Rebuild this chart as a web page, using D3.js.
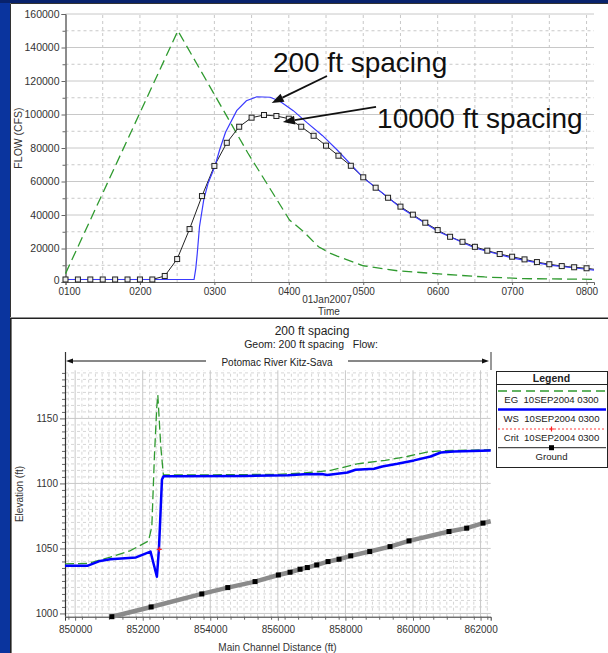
<!DOCTYPE html>
<html>
<head>
<meta charset="utf-8">
<script src="https://cdn.jsdelivr.net/npm/d3@7"></script>
<style>
  html, body { margin: 0; padding: 0; background: #0a349e; }
  svg { display: block; font-family: "Liberation Sans", Arial, sans-serif; }
</style>
</head>
<body>
<svg id="chart" width="608" height="653"></svg>
<script>
// ---------- Upper chart: flow hydrographs (hours after midnight, cfs) ----------
const hourTicks  = [1, 2, 3, 4, 5, 6, 7, 8];
const hourLabels = ["0100", "0200", "0300", "0400", "0500", "0600", "0700", "0800"];
const flowTicks  = [0, 20000, 40000, 60000, 80000, 100000, 120000, 140000, 160000];

// inflow hydrograph (green dashed)
const inflowTime = [1.0, 2.51, 3.45, 4.01, 4.2, 4.4, 4.56, 4.65, 5.0, 5.46, 6.09, 6.63, 7.16, 8.1];
const inflowCfs  = [5000, 150000, 77000, 37000, 30000, 21000, 17100, 15500, 9700, 6700, 4600, 3000, 2000, 1600];

// 200 ft cross-section spacing (blue)
const fineTime = [1.0, 2.727, 2.75, 2.77, 2.80, 2.857, 2.915, 3.005, 3.07, 3.15, 3.30, 3.43, 3.57, 3.75, 3.88,
                  4.06, 4.24, 4.45, 4.65, 5.0, 5.5, 6.0, 6.5, 7.0, 7.5, 8.0, 8.1];
const fineCfs  = [1500, 1500, 8000, 17000, 33000, 49000, 58900, 68800, 78800, 89400, 102300, 108200, 110600, 110300, 107900,
                  102300, 95300, 87500, 78800, 62300, 44500, 30300, 20300, 14400, 10100, 7600, 7100];

// 10000 ft cross-section spacing (black, one value every 10 minutes from 01:00)
const coarseCfs = [1500, 1500, 1500, 1500, 1500, 1500, 1500, 1500, 3600, 13700,
                   31600, 51300, 69300, 83100, 92700, 98100, 99700, 99100, 97500, 92700,
                   87300, 81400, 75400, 69400, 62500, 56300, 50300, 45000, 40200, 35400,
                   31000, 27000, 24000, 21000, 18700, 16700, 15100, 13500, 11900, 10600,
                   9500, 8800, 8200];
const coarseTail = [8.1, 7600];

// ---------- Lower chart: water surface profile ----------
const stationTicks = [850000, 852000, 854000, 856000, 858000, 860000, 862000];
const elevTicks    = [1000, 1050, 1100, 1150];

const egStation = [849700, 850400, 850740, 851040, 851620, 852170, 852270, 852346, 852417, 852447, 852535, 852612,
                   854000, 856000, 856775, 857565, 858350, 859180, 859820, 860410, 860820, 862300];
const egElev    = [1038.1, 1038.5, 1041.2, 1043.3, 1048.1, 1055.7, 1066.7, 1120.6, 1159.0, 1168.0, 1128.3, 1106.5,
                   1106.6, 1107.0, 1108.0, 1110.0, 1115.1, 1117.7, 1120.7, 1124.1, 1125.1, 1125.9];

const wsStation = [849700, 850360, 850740, 851040, 851800, 852230, 852420, 852480, 852570, 852620,
                   855000, 856300, 856780, 857300, 857460, 858060, 858300, 858850, 859090, 859540,
                   860030, 860520, 860820, 861210, 862300];
const wsElev    = [1036.6, 1036.6, 1040.4, 1041.7, 1043.1, 1047.6, 1028.2, 1049.5, 1103.0, 1105.6,
                   1105.8, 1106.2, 1107.0, 1107.3, 1106.5, 1108.4, 1110.5, 1111.3, 1113.0, 1115.1,
                   1117.7, 1120.7, 1123.8, 1124.6, 1125.4];

const critStation = [852490];
const critElev    = [1049.3];

const groundStation = [851086, 852249, 853749, 854518, 855325, 856015, 856361, 856657, 856873, 857151,
                       857485, 857811, 858157, 858719, 859320, 859882, 861065, 861589, 862071, 862300];
const groundElev    = [997.5, 1005.0, 1015.0, 1019.9, 1024.5, 1029.6, 1031.7, 1034.0, 1035.3, 1037.3,
                       1039.9, 1041.7, 1044.3, 1047.6, 1051.4, 1055.8, 1063.0, 1065.6, 1069.5, 1070.9];

const legendLabels = ["EG  10SEP2004 0300", "WS  10SEP2004 0300", "Crit  10SEP2004 0300", "Ground"];

// =====================================================================
const svg = d3.select("#chart");
const GRID = "#c8c8c8";
const GRID_MINOR = "#d6d6d6";

// slide backdrop and the two white panels
svg.append("rect").attr("width", 608).attr("height", 653).attr("fill", "#0a349e");
svg.append("rect").attr("width", 608).attr("height", 3).attr("fill", "#08226c");
svg.append("rect").attr("x", 10).attr("y", 3).attr("width", 598).attr("height", 315).attr("fill", "#fff");
svg.append("path").attr("d", "M10.5,317 V3.5 H608").attr("fill", "none").attr("stroke", "#333").attr("stroke-width", 1);
svg.append("rect").attr("x", 10).attr("y", 318).attr("width", 598).attr("height", 335).attr("fill", "#fff");
svg.append("path").attr("d", "M10.8,653 V318.2 H608").attr("fill", "none").attr("stroke", "#222").attr("stroke-width", 1.6);

function styleAxis(g, size) {
  g.selectAll("text").attr("font-size", size).attr("fill", "#333");
  g.selectAll("line").attr("stroke", "#666");
  g.select(".domain").attr("stroke", "#666");
}

function arrow(g, x1, y1, x2, y2, len, half, width) {
  const a = Math.atan2(y2 - y1, x2 - x1);
  const bx = x2 - len * Math.cos(a), by = y2 - len * Math.sin(a);
  g.append("line").attr("x1", x1).attr("y1", y1).attr("x2", bx).attr("y2", by)
    .attr("stroke", "#111").attr("stroke-width", width);
  const px = -Math.sin(a) * half, py = Math.cos(a) * half;
  g.append("path")
    .attr("d", `M${x2},${y2} L${bx + px},${by + py} L${bx - px},${by - py} Z`)
    .attr("fill", "#111");
}

// ---------------------------- upper chart ----------------------------
const xT = d3.scaleLinear().domain([1, 8.1]).range([65.5, 594]);
const yT = d3.scaleLinear().domain([0, 160000]).range([282, 14]);
const upper = svg.append("g");

// grid
upper.append("g").selectAll("line").data(d3.range(10000, 160001, 10000)).join("line")
  .attr("x1", xT(1)).attr("x2", xT(8.1))
  .attr("y1", d => yT(d)).attr("y2", d => yT(d))
  .attr("stroke", GRID).attr("stroke-width", 1)
  .attr("stroke-dasharray", d => d % 20000 === 0 ? null : "3,3");
upper.append("g").selectAll("line").data(d3.range(1.5, 8.01, 0.5)).join("line")
  .attr("x1", d => xT(d)).attr("x2", d => xT(d))
  .attr("y1", yT(0)).attr("y2", yT(160000))
  .attr("stroke", GRID).attr("stroke-width", 1).attr("stroke-dasharray", "3,3");

// axes
const yAxT = upper.append("g").attr("transform", `translate(${xT(1)},0)`)
  .call(d3.axisLeft(yT).tickValues(flowTicks).tickSize(4).tickPadding(2).tickFormat(d3.format("d")));
styleAxis(yAxT, 10.5);
yAxT.selectAll(".tick text").filter(d => d === 0).attr("dy", "0.1em");
const yMinT = upper.append("g").attr("transform", `translate(${xT(1)},0)`)
  .call(d3.axisLeft(yT).tickValues(d3.range(10000, 160000, 20000)).tickSize(3).tickFormat(""));
styleAxis(yMinT, 10);
const xAxT = upper.append("g").attr("transform", `translate(0,${yT(0)})`)
  .call(d3.axisBottom(xT).tickValues(hourTicks).tickSize(3).tickPadding(3).tickFormat((d, i) => hourLabels[i]));
styleAxis(xAxT, 10);
xAxT.selectAll(".tick text").filter(d => d === 1).attr("dx", "0.35em");

upper.append("text").attr("x", 327).attr("y", 303).attr("text-anchor", "middle")
  .attr("font-size", 10).attr("fill", "#333").text("01Jan2007");
upper.append("text").attr("x", 329).attr("y", 314.5).attr("text-anchor", "middle")
  .attr("font-size", 10).attr("fill", "#333").text("Time");
upper.append("text").attr("transform", "translate(22,138) rotate(-90)").attr("text-anchor", "middle")
  .attr("font-size", 10.5).attr("fill", "#333").text("FLOW (CFS)");

// series
const lineT = d3.line().x(d => xT(d[0])).y(d => yT(d[1]));
const inflow = inflowTime.map((t, i) => [t, inflowCfs[i]]);
const fine = fineTime.map((t, i) => [t, fineCfs[i]]);
const coarsePts = coarseCfs.map((q, i) => [1 + i / 6, q]);

upper.append("path").datum(inflow).attr("d", lineT).attr("fill", "none")
  .attr("stroke", "#2f9a2f").attr("stroke-width", 1.3).attr("stroke-dasharray", "10,5");
upper.append("path").datum(coarsePts.concat([coarseTail])).attr("d", lineT).attr("fill", "none")
  .attr("stroke", "#222").attr("stroke-width", 1);
upper.append("path").datum(fine).attr("d", lineT).attr("fill", "none")
  .attr("stroke", "#3a3aff").attr("stroke-width", 1.2);
upper.append("g").selectAll("rect").data(coarsePts).join("rect")
  .attr("x", d => xT(d[0]) - 2.5).attr("y", d => yT(d[1]) - 2.5)
  .attr("width", 5).attr("height", 5)
  .attr("fill", "#eee").attr("stroke", "#222").attr("stroke-width", 1);

// annotations
const ann = upper.append("g");
ann.append("text").attr("x", xT(3.786)).attr("y", yT(125400))
  .attr("font-size", 28).attr("fill", "#111").text("200 ft spacing");
ann.append("text").attr("x", xT(5.186)).attr("y", yT(92200))
  .attr("font-size", 28).attr("fill", "#111").text("10000 ft spacing");
arrow(ann, xT(4.513), yT(123000), xT(3.77), yT(106900), 12, 4.5, 1.8);
arrow(ann, xT(5.172), yT(104500), xT(3.92), yT(95500), 12, 4.5, 1.8);

// ---------------------------- lower chart ----------------------------
const xB = d3.scaleLinear().domain([849700, 862300]).range([65, 490.7]);
const yB = d3.scaleLinear().domain([997.5, 1187]).range([616.7, 370.3]);
const lower = svg.append("g");

// grid
lower.append("g").selectAll("line").data(d3.range(1000, 1186, 5)).join("line")
  .attr("x1", xB.range()[0]).attr("x2", xB.range()[1])
  .attr("y1", d => yB(d)).attr("y2", d => yB(d))
  .attr("stroke", d => d % 50 === 0 ? GRID : GRID_MINOR).attr("stroke-width", 1)
  .attr("stroke-dasharray", d => d % 50 === 0 ? null : "3,3");
lower.append("g").selectAll("line").data(d3.range(849800, 862300, 200)).join("line")
  .attr("x1", d => xB(d)).attr("x2", d => xB(d))
  .attr("y1", yB.range()[0]).attr("y2", yB.range()[1])
  .attr("stroke", d => d % 2000 === 0 ? GRID : GRID_MINOR).attr("stroke-width", 1)
  .attr("stroke-dasharray", d => d % 2000 === 0 ? null : "3,3");

// axes
const yAxB = lower.append("g").attr("transform", `translate(${xB.range()[0]},0)`)
  .call(d3.axisLeft(yB).tickValues(elevTicks).tickSize(5).tickPadding(2).tickFormat(d3.format("d")));
styleAxis(yAxB, 10);
yAxB.select(".domain").remove();
const yMinB = lower.append("g").attr("transform", `translate(${xB.range()[0]},0)`)
  .call(d3.axisLeft(yB).tickValues(d3.range(1005, 1186, 5).filter(d => d % 50 !== 0)).tickSize(3).tickFormat(""));
styleAxis(yMinB, 10);
yMinB.select(".domain").remove();
lower.append("line").attr("x1", xB.range()[0] + 0.5).attr("x2", xB.range()[0] + 0.5)
  .attr("y1", 352).attr("y2", yB.range()[0]).attr("stroke", "#333").attr("stroke-width", 1.2);

const xAxB = lower.append("g").attr("transform", `translate(0,${yB.range()[0]})`)
  .call(d3.axisBottom(xB).tickValues(stationTicks).tickSize(4).tickPadding(5).tickFormat(d3.format("d")));
styleAxis(xAxB, 10);
xAxB.select(".domain").attr("stroke", "#333");
const xMinB = lower.append("g").attr("transform", `translate(0,${yB.range()[0]})`)
  .call(d3.axisBottom(xB).tickValues(d3.range(849800, 862300, 400)).tickSize(3).tickFormat(""));
styleAxis(xMinB, 10);
xMinB.select(".domain").remove();

// titles
lower.append("text").attr("x", 312).attr("y", 334.5).attr("text-anchor", "middle")
  .attr("font-size", 12).attr("fill", "#222").text("200 ft spacing");
lower.append("text").attr("x", 311).attr("y", 347.5).attr("text-anchor", "middle")
  .attr("font-size", 10.5).attr("fill", "#222").attr("xml:space", "preserve")
  .text("Geom: 200 ft spacing   Flow:");
lower.append("text").attr("x", 277).attr("y", 366).attr("text-anchor", "middle")
  .attr("font-size", 10).attr("fill", "#222").text("Potomac River Kitz-Sava");
arrow(lower, 206, 361, 66, 361, 7, 2.5, 1);
arrow(lower, 348, 361, 489, 361, 7, 2.5, 1);
lower.append("line").attr("x1", 491).attr("x2", 491).attr("y1", 352).attr("y2", 370)
  .attr("stroke", "#333").attr("stroke-width", 1);
lower.append("text").attr("x", 277.5).attr("y", 651).attr("text-anchor", "middle")
  .attr("font-size", 10).attr("fill", "#333").text("Main Channel Distance (ft)");
lower.append("text").attr("transform", "translate(23,494) rotate(-90)").attr("text-anchor", "middle")
  .attr("font-size", 10).attr("fill", "#333").text("Elevation (ft)");

// profile series
const lineB = d3.line().x(d => xB(d[0])).y(d => yB(d[1]));
const ground = groundStation.map((s, i) => [s, groundElev[i]]);
const eg = egStation.map((s, i) => [s, egElev[i]]);
const ws = wsStation.map((s, i) => [s, wsElev[i]]);
const crit = critStation.map((s, i) => [s, critElev[i]]);

lower.append("path").datum(ground).attr("d", lineB).attr("fill", "none")
  .attr("stroke", "#8a8a8a").attr("stroke-width", 4.5);
lower.append("g").selectAll("rect").data(ground.slice(0, -1)).join("rect")
  .attr("x", d => xB(d[0]) - 2.5).attr("y", d => yB(d[1]) - 2.5)
  .attr("width", 5).attr("height", 5).attr("fill", "#000");
lower.append("path").datum(eg).attr("d", lineB).attr("fill", "none")
  .attr("stroke", "#2f9a2f").attr("stroke-width", 1.3).attr("stroke-dasharray", "9,4");
lower.append("path").datum(ws).attr("d", lineB).attr("fill", "none")
  .attr("stroke", "#0000ff").attr("stroke-width", 2.5).attr("stroke-linejoin", "round");
lower.append("g").selectAll("path").data(crit).join("path")
  .attr("d", d => { const x = xB(d[0]), y = yB(d[1]); return `M${x - 2.5},${y}H${x + 2.5}M${x},${y - 2.5}V${y + 2.5}`; })
  .attr("stroke", "#ff2020").attr("stroke-width", 1.2);

// legend
const lg = lower.append("g");
const lx0 = 496, lx1 = 607, lcx = (lx0 + lx1) / 2;
lg.append("rect").attr("x", lx0 + 0.5).attr("y", 371.5).attr("width", lx1 - lx0).attr("height", 96)
  .attr("fill", "#fff").attr("stroke", "#222").attr("stroke-width", 1);
lg.append("text").attr("x", lcx).attr("y", 381.5).attr("text-anchor", "middle")
  .attr("font-size", 10.5).attr("font-weight", "bold").attr("fill", "#222").text("Legend");
lg.append("line").attr("x1", lx0).attr("x2", lx1).attr("y1", 384.5).attr("y2", 384.5).attr("stroke", "#222");
const keyY = [391, 409.5, 429, 447.7];
const keyStyle = [
  { stroke: "#2f9a2f", width: 1.3, dash: "9,5" },
  { stroke: "#0000ff", width: 2.5, dash: null },
  { stroke: "#ff4040", width: 1, dash: "2,2" },
  { stroke: "#222", width: 1, dash: null }
];
keyStyle.forEach((s, i) => {
  lg.append("line").attr("x1", lx0 + 2).attr("x2", lx1 - 1).attr("y1", keyY[i]).attr("y2", keyY[i])
    .attr("stroke", s.stroke).attr("stroke-width", s.width).attr("stroke-dasharray", s.dash);
  lg.append("text").attr("x", lcx).attr("y", keyY[i] + 12).attr("text-anchor", "middle")
    .attr("font-size", 9.6).attr("fill", "#222").attr("xml:space", "preserve").text(legendLabels[i]);
});
lg.append("path").attr("d", `M${lcx - 2.5},${keyY[2]}H${lcx + 2.5}M${lcx},${keyY[2] - 2.5}V${keyY[2] + 2.5}`)
  .attr("stroke", "#ff2020").attr("stroke-width", 1.2);
lg.append("rect").attr("x", lcx - 2.5).attr("y", keyY[3] - 2.5).attr("width", 5).attr("height", 5).attr("fill", "#000");
</script>
</body>
</html>
